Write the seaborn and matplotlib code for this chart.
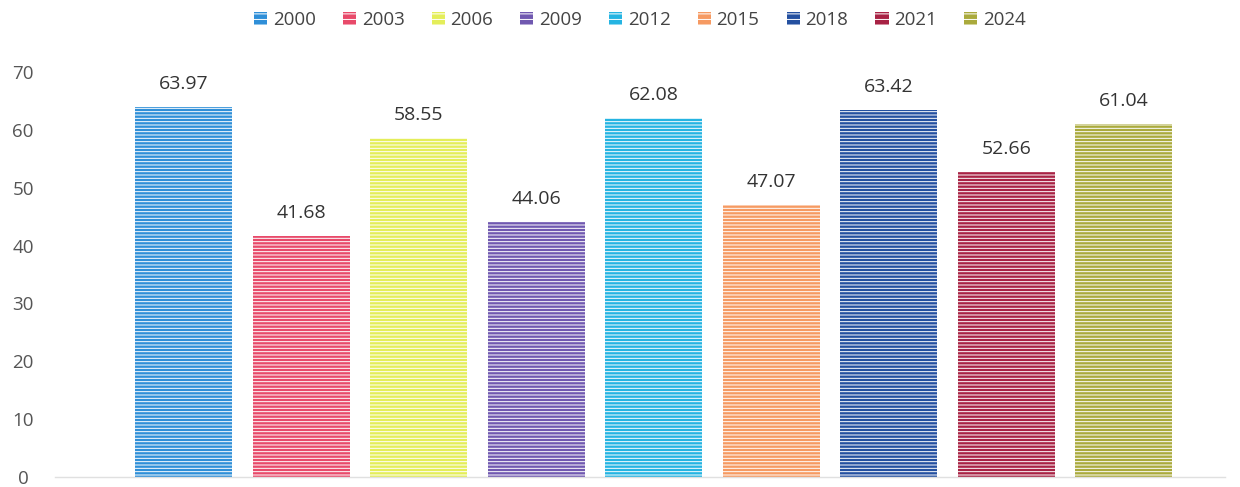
import matplotlib
matplotlib.use("Agg")
import matplotlib.pyplot as plt
from matplotlib.patches import Patch
import seaborn as sns
import pandas as pd

# --- Datos ---
anios = ["2000", "2003", "2006", "2009", "2012", "2015", "2018", "2021", "2024"]
valores = [63.97, 41.68, 58.55, 44.06, 62.08, 47.07, 63.42, 52.66, 61.04]
colores = ["#2f8fd8", "#e84a6a", "#e4ee5a", "#7058b0", "#25b4e2",
           "#f69a62", "#2450a0", "#a82244", "#aaaa3c"]
ticks_y = [0, 10, 20, 30, 40, 50, 60, 70]

sns.set_theme(style="white")
plt.rcParams['font.family'] = ['Open Sans', 'DejaVu Sans']
plt.rcParams['hatch.linewidth'] = 0.7

df = pd.DataFrame({'anio': anios, 'valor': valores})

fig = plt.figure(figsize=(12.4, 4.87), dpi=100)
ax = fig.add_axes([55 / 1240, 10 / 487, 1170 / 1240, 405 / 487])

sns.barplot(data=df, x='anio', y='valor', hue='anio', palette=colores,
            legend=False, width=0.826, ax=ax, saturation=1)

# rayas horizontales estilo Excel
for barra in ax.patches:
    barra.set_hatch('-----')
    barra.set_edgecolor('white')
    barra.set_linewidth(0)

for cont in ax.containers:
    ax.bar_label(cont, fmt='%.2f', padding=10, fontsize=14, color='#333333')

ax.set_ylim(0, 70)
ax.set_xlim(-1.094, 8.86)
ax.set_yticks(ticks_y)
ax.set_xticks([])
ax.set_xlabel('')
ax.set_ylabel('')
ax.tick_params(axis='y', labelsize=13.5, colors='#555555', length=0, pad=23)
for lbl in ax.get_yticklabels():
    lbl.set_horizontalalignment('center')
for lado in ['top', 'right', 'left']:
    ax.spines[lado].set_visible(False)
ax.spines['bottom'].set_color('#e0e0e0')
ax.spines['bottom'].set_linewidth(1)

# leyenda superior
handles = [Patch(facecolor=c, edgecolor='white', hatch='---', linewidth=0) for c in colores]
fig.legend(handles, anios, loc='upper center', bbox_to_anchor=(0.516, 1.012), ncol=9,
           frameon=False, fontsize=13.5, handlelength=0.7, handleheight=0.7,
           handletextpad=0.3, columnspacing=1.45, labelcolor='#444444')

fig.savefig('out.png', dpi=100)
